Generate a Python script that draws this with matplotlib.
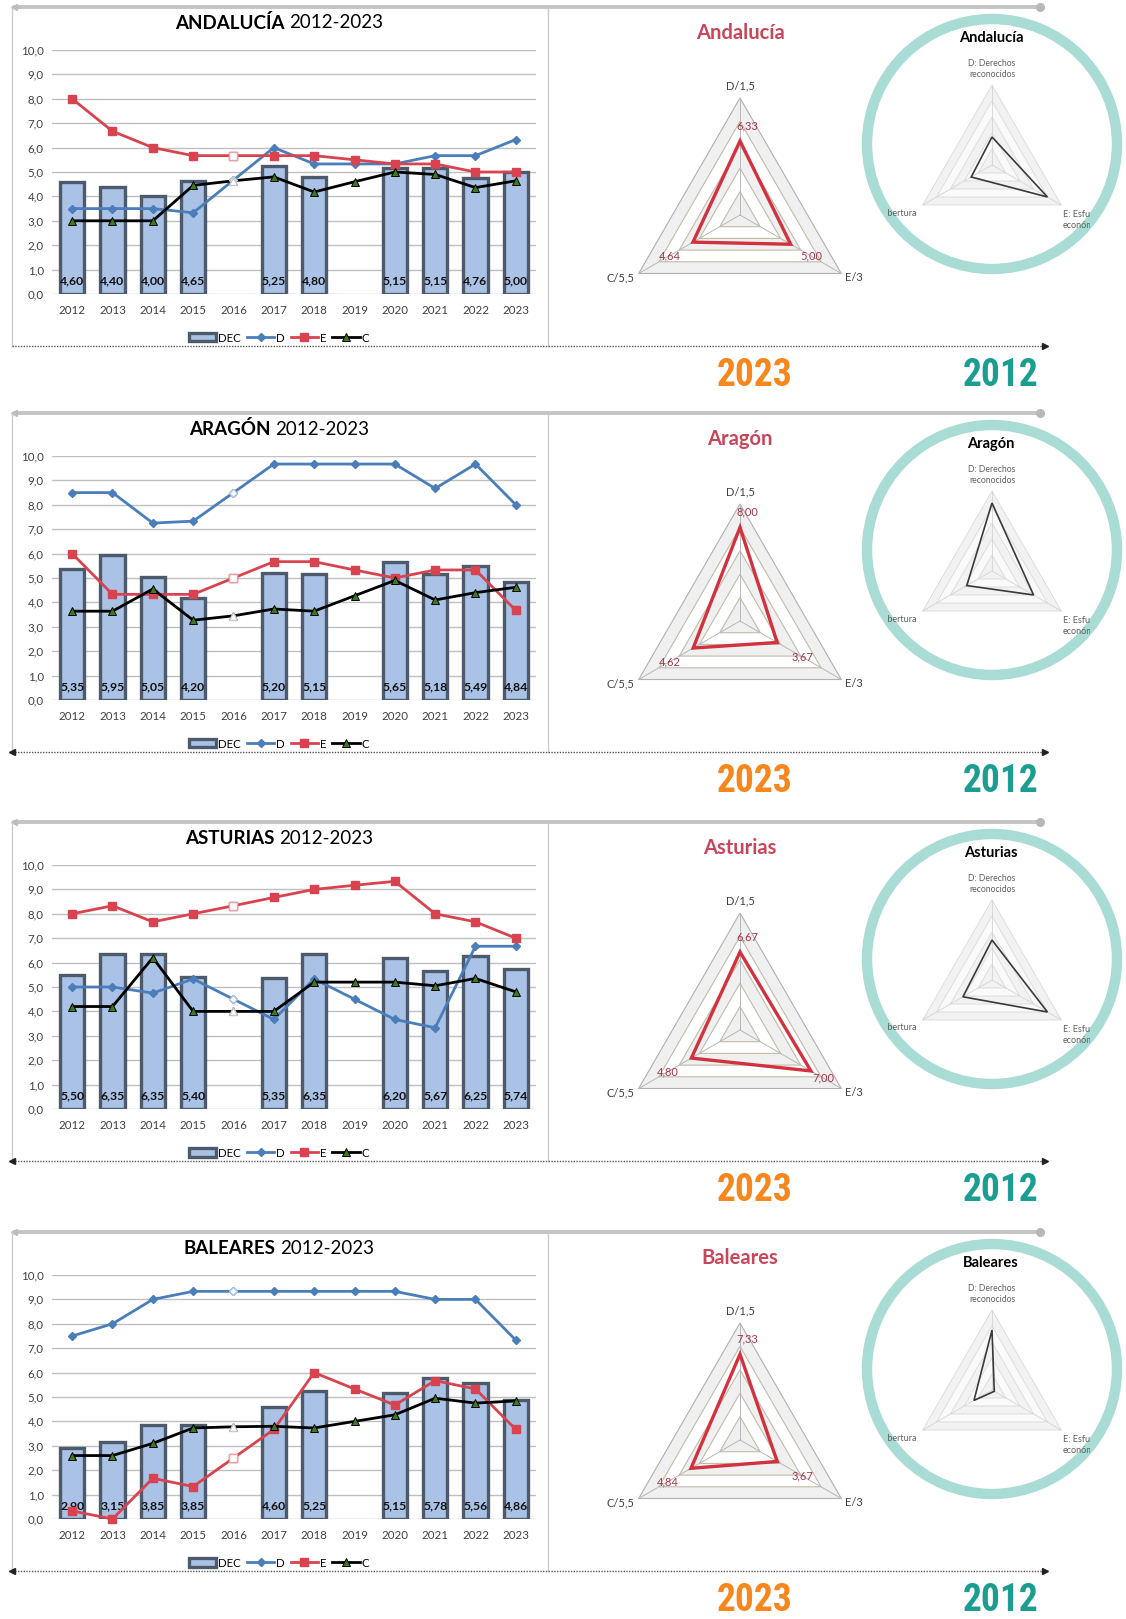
import numpy as np
import matplotlib
matplotlib.use('Agg')
import matplotlib.pyplot as plt
from matplotlib.patches import Circle, Polygon

W, H = 1126, 1619
plt.rcParams['font.family'] = ['Lato', 'DejaVu Sans']

# ---------------- data ----------------
years = ['2012', '2013', '2014', '2015', '2016', '2017', '2018', '2019', '2020', '2021', '2022', '2023']
regions_upper = ['ANDALUCÍA', 'ARAGÓN', 'ASTURIAS', 'BALEARES']
regions_name = ['Andalucía', 'Aragón', 'Asturias', 'Baleares']
period_label = '2012-2023'
legend_labels = ['DEC', 'D', 'E', 'C']
radar_labels_new = ['D/1,5', 'E/3', 'C/5,5']
radar_labels_old = ['D: Derechos\nreconocidos', 'E: Esfuerzo\neconómico', 'C: Cobertura']
year_new, year_old = '2023', '2012'
hollow_year = '2016'

dec_andalucia = [4.60, 4.40, 4.00, 4.65, None, 5.25, 4.80, None, 5.15, 5.15, 4.76, 5.00]
d_andalucia = [3.50, 3.50, 3.50, 3.33, 4.67, 6.00, 5.33, 5.33, 5.33, 5.67, 5.67, 6.33]
e_andalucia = [8.00, 6.67, 6.00, 5.67, 5.67, 5.67, 5.67, 5.50, 5.33, 5.33, 5.00, 5.00]
c_andalucia = [3.00, 3.00, 3.00, 4.45, 4.64, 4.80, 4.18, 4.60, 5.00, 4.90, 4.36, 4.64]

dec_aragon = [5.35, 5.95, 5.05, 4.20, None, 5.20, 5.15, None, 5.65, 5.18, 5.49, 4.84]
d_aragon = [8.50, 8.50, 7.25, 7.33, 8.50, 9.67, 9.67, 9.67, 9.67, 8.67, 9.67, 8.00]
e_aragon = [6.00, 4.33, 4.33, 4.33, 5.00, 5.67, 5.67, 5.33, 5.00, 5.33, 5.33, 3.67]
c_aragon = [3.64, 3.64, 4.55, 3.27, 3.45, 3.73, 3.64, 4.27, 4.90, 4.10, 4.40, 4.62]

dec_asturias = [5.50, 6.35, 6.35, 5.40, None, 5.35, 6.35, None, 6.20, 5.67, 6.25, 5.74]
d_asturias = [5.00, 5.00, 4.75, 5.33, 4.50, 3.67, 5.33, 4.50, 3.67, 3.33, 6.67, 6.67]
e_asturias = [8.00, 8.33, 7.67, 8.00, 8.33, 8.67, 9.00, 9.17, 9.33, 8.00, 7.67, 7.00]
c_asturias = [4.20, 4.20, 6.20, 4.00, 4.00, 4.00, 5.20, 5.20, 5.20, 5.05, 5.35, 4.80]

dec_baleares = [2.90, 3.15, 3.85, 3.85, None, 4.60, 5.25, None, 5.15, 5.78, 5.56, 4.86]
d_baleares = [7.50, 8.00, 9.00, 9.33, 9.33, 9.33, 9.33, 9.33, 9.33, 9.00, 9.00, 7.33]
e_baleares = [0.33, 0.00, 1.67, 1.33, 2.50, 3.67, 6.00, 5.33, 4.67, 5.67, 5.33, 3.67]
c_baleares = [2.60, 2.60, 3.10, 3.73, 3.78, 3.80, 3.73, 4.00, 4.27, 4.95, 4.75, 4.84]

panels = [
    (dec_andalucia, d_andalucia, e_andalucia, c_andalucia),
    (dec_aragon, d_aragon, e_aragon, c_aragon),
    (dec_asturias, d_asturias, e_asturias, c_asturias),
    (dec_baleares, d_baleares, e_baleares, c_baleares),
]

# ---------------- styles ----------------
BLUE = '#4a7ebb'
RED = '#d9434f'
BAR_FC = '#a9c2e6'
BAR_EC = '#4d5a6b'
RADAR_RED = '#d2313d'
TITLE_RED = '#c9455a'
ORANGE = '#f7861c'
TEAL = '#1b9e91'
RING = '#aadcd6'
COND = ['Roboto Condensed', 'Liberation Sans Narrow', 'DejaVu Sans']


def fmt(v, nd=2):
    return f'{v:.{nd}f}'.replace('.', ',')


fig = plt.figure(figsize=(W / 100, H / 100), dpi=100)
fig.patch.set_facecolor('white')
bg = fig.add_axes([0, 0, 1, 1])
bg.set_xlim(0, W)
bg.set_ylim(H, 0)
bg.axis('off')


def fig_axes(x0, y0, x1, y1):
    return fig.add_axes([x0 / W, 1 - y1 / H, (x1 - x0) / W, (y1 - y0) / H])


renderer = fig.canvas.get_renderer()
tops = [7, 413, 822, 1232]
angles = np.deg2rad([90, -30, 210])
dirs = np.c_[np.cos(angles), np.sin(angles)]

for k, (dec, dd, ee, cc) in enumerate(panels):
    t = tops[k]
    x = np.arange(len(years))
    hk = years.index(hollow_year)

    # ---- decorations ----
    bg.plot([14, 1040], [t, t], color='#c4c4c4', lw=2.8, solid_capstyle='round', zorder=1)
    bg.plot([1040], [t], 'o', ms=5.5, color='#b8b8b8', zorder=1)
    bg.plot([14], [t], '<', ms=4, color='#bdbdbd', zorder=1)
    bg.plot([12, 12], [t, t + 339], color='#cccccc', lw=1, zorder=1)
    bg.plot([548, 548], [t + 2, t + 339], color='#cccccc', lw=1, zorder=1)
    bg.plot([12, 1042], [t + 339, t + 339], color='#555555', lw=1, ls=(0, (1, 1)), zorder=1)
    bg.plot([1045], [t + 339], '>', ms=4.5, color='#222222', zorder=1)
    if k > 0:
        bg.plot([12], [t + 339], '<', ms=4.5, color='#222222', zorder=1)
    bg.text(755, t + 368, year_new, color=ORANGE, fontsize=27, fontweight='bold',
            family=COND, ha='center', va='center')
    bg.text(1001, t + 368, year_old, color=TEAL, fontsize=27, fontweight='bold',
            family=COND, ha='center', va='center')
    bg.add_patch(Circle((992, t + 137), 125, fill=False, ec=RING, lw=7.5, zorder=1))

    # ---- title of line chart ----
    t1 = bg.text(0, t + 16, regions_upper[k], fontsize=13.5, fontweight='bold', va='center', ha='left')
    t2 = bg.text(0, t + 16, period_label, fontsize=13.5, va='center', ha='left')
    w1 = t1.get_window_extent(renderer).width
    w2 = t2.get_window_extent(renderer).width
    gap = 5
    x0 = 279 - (w1 + w2 + gap) / 2
    t1.set_x(x0)
    t2.set_x(x0 + w1 + gap)

    # ---- line chart ----
    ax = fig_axes(52, t + 43, 536, t + 287)
    ax.set_xlim(-0.5, len(years) - 0.5)
    ax.set_ylim(0, 10)
    ax.set_yticks(np.arange(0, 11))
    ax.set_yticklabels([fmt(v, 1) for v in range(11)])
    ax.set_xticks(x)
    ax.set_xticklabels(years)
    ax.tick_params(axis='both', length=0, labelsize=8.3, labelcolor='#404040')
    ax.tick_params(axis='y', pad=6)
    ax.tick_params(axis='x', pad=8)
    for s in ax.spines.values():
        s.set_visible(False)
    ax.yaxis.grid(True, color='#c0c0c0', lw=1)
    ax.set_axisbelow(True)
    ax.patch.set_alpha(0)

    idx = [i for i, v in enumerate(dec) if v is not None]
    vals = [dec[i] for i in idx]
    bars = ax.bar(idx, vals, width=0.6, color=BAR_FC, edgecolor=BAR_EC, lw=2.4, zorder=2)
    for i, v in zip(idx, vals):
        ax.text(i, 0.52, fmt(v), ha='center', va='center', fontsize=8.8,
                fontweight='bold', color='#111111', zorder=3)
    lD, = ax.plot(x, dd, color=BLUE, lw=2, marker='D', ms=4.5, zorder=4, clip_on=False)
    lE, = ax.plot(x, ee, color=RED, lw=2, marker='s', ms=6, zorder=4, clip_on=False)
    lC, = ax.plot(x, cc, color='black', lw=2, marker='^', ms=6, mfc='#3c7a20',
                  mec='black', mew=0.7, zorder=4, clip_on=False)
    ax.plot([hk], [dd[hk]], marker='D', ms=4.5, mfc='white', mec='#b0c6e4', ls='none', zorder=5)
    ax.plot([hk], [ee[hk]], marker='s', ms=6, mfc='white', mec='#e9a3aa', ls='none', zorder=5)
    ax.plot([hk], [cc[hk]], marker='^', ms=6, mfc='white', mec='#c8c8c8', ls='none', zorder=5)

    ax.legend([bars, lD, lE, lC], legend_labels, loc='center',
              bbox_to_anchor=(279 / W, 1 - (t + 331) / H), bbox_transform=fig.transFigure,
              ncol=4, frameon=False, fontsize=8.3, handlelength=2.4, columnspacing=0.5,
              handletextpad=0.15, borderpad=0)

    # ---- radar 2023 ----
    s = 11.7
    rax = fig_axes(590, t + 40, 890, t + 300)
    rax.set_xlim(-150 / s, 150 / s)
    rax.set_ylim(-(300 - 208) / s, (208 - 40) / s)
    rax.axis('off')
    for j, lvl in enumerate([10, 8, 6, 4, 2]):
        fc = '#f0f0f0' if j % 2 == 0 else 'white'
        ec = '#b0b0b0' if j == 0 else '#c2bba9'
        rax.add_patch(Polygon(dirs * lvl, closed=True, fc=fc, ec=ec, lw=0.8, zorder=1))
    for dvec in dirs:
        rax.plot([0, dvec[0] * 10], [0, dvec[1] * 10], color='#b8b8b8', lw=0.7, zorder=2)
    vnew = np.array([dd[-1], ee[-1], cc[-1]])
    rax.add_patch(Polygon(dirs * vnew[:, None], closed=True, fill=False, ec=RADAR_RED,
                          lw=2.4, zorder=3))
    label_off = [(0, 1.0), (1.1, -0.35), (-1.6, -0.35)]
    for j in range(3):
        px, py = dirs[j] * 10
        rax.text(px + label_off[j][0], py + label_off[j][1], radar_labels_new[j],
                 fontsize=8, color='#404040', ha='center', va='center', clip_on=False)
    # value labels
    rax.text(0.6, vnew[0] + 1.3, fmt(vnew[0]), fontsize=8, color='#a8334a',
             ha='center', va='center', zorder=4)
    pe = dirs[1] * (0.6 * vnew[1] + 4.0)
    rax.text(pe[0], pe[1], fmt(vnew[1]), fontsize=8, color='#a8334a', ha='center', va='center', zorder=4)
    pc = dirs[2] * (vnew[2] + 2.3)
    rax.text(pc[0], pc[1], fmt(vnew[2]), fontsize=8, color='#a8334a', ha='center', va='center', zorder=4)
    bg.text(740, t + 26, regions_name[k], color=TITLE_RED, fontsize=14.5, fontweight='bold',
            ha='center', va='center')

    # ---- radar 2012 (inside ring) ----
    s2 = 8.0
    iax = fig_axes(888, t + 20, 1090, t + 232)
    iax.set_xlim(-(992 - 888) / s2, (1090 - 992) / s2)
    iax.set_ylim(-(232 - 158) / s2, (158 - 20) / s2)
    iax.axis('off')
    for j, lvl in enumerate([10, 8, 6, 4, 2]):
        fc = '#f2f2f2' if j % 2 == 0 else '#fafafa'
        iax.add_patch(Polygon(dirs * lvl, closed=True, fc=fc, ec='#dadada', lw=0.6, zorder=1))
    for dvec in dirs:
        iax.plot([0, dvec[0] * 10], [0, dvec[1] * 10], color='#d4d4d4', lw=0.6, zorder=2)
    vold = np.array([dd[0], ee[0], cc[0]])
    iax.add_patch(Polygon(dirs * vold[:, None], closed=True, fill=False, ec='#3a3a3a',
                          lw=1.2, zorder=3))
    iax.text(0, (158 - 62) / s2, radar_labels_old[0], fontsize=6.2, color='#606060',
             ha='center', va='center', linespacing=1.15)
    iax.text((1063 - 992) / s2, -(213 - 158) / s2, radar_labels_old[1], fontsize=6.5,
             color='#606060', ha='left', va='center', linespacing=1.2, clip_on=True)
    iax.text((917 - 992) / s2, -(206 - 158) / s2, radar_labels_old[2], fontsize=6.5,
             color='#606060', ha='right', va='center', clip_on=True)
    bg.text(991, t + 31, regions_name[k], color='black', fontsize=10.5, fontweight='bold',
            ha='center', va='center')

fig.savefig('out.png', dpi=100, facecolor='white')
